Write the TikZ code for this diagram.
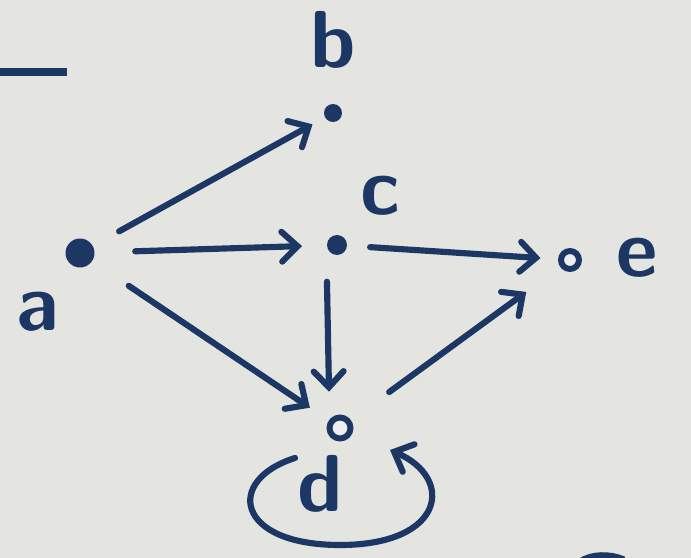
\documentclass[tikz,border=0pt]{standalone}
\usepackage{tikz}
\usetikzlibrary{arrows.meta}
\definecolor{inkblue}{RGB}{28,55,100}
\definecolor{paper}{RGB}{228,228,225}
\tikzset{
  vdot/.style={circle, fill=inkblue, inner sep=0pt},
  vring/.style={circle, draw=inkblue, line width=3.4pt, fill=paper!60!white, inner sep=0pt},
  vlabel/.style={text=inkblue, font=\fontsize{46}{46}\selectfont\sffamily\bfseries},
  arr/.style={-{Straight Barb[length=9pt, width=17pt, line cap=round]}, line width=3.5pt, inkblue, line cap=round},
}
\begin{document}
\begin{tikzpicture}[x=0.02cm, y=-0.02cm]
  \fill[paper] (0,0) rectangle (691,558);
  \useasboundingbox (0,0) rectangle (691,558);

  % vertices
  \node[vdot, minimum size=0.58cm] (a) at (80,253) {};
  \node[vdot, minimum size=0.36cm] (b) at (333,113) {};
  \node[vdot, minimum size=0.4cm] (c) at (337,245) {};
  \node[vring, minimum size=0.42cm] (d) at (340,428) {};
  \node[vring, minimum size=0.36cm] (e) at (570,260) {};

  % labels
  \node[vlabel] (la) at (38,312) {a};
  \node[vlabel] (lb) at (333,40) {b};
  \node[vlabel] (lc) at (380,196) {c};
  \node[vlabel] (ld) at (320,484) {d};
  \node[vlabel] (le) at (637,258) {e};

  % edges
  \draw[arr, shorten <=17pt, shorten >=8pt] (a) -- (b);
  \draw[arr, shorten <=23pt, shorten >=14pt] (a) -- (c);
  \draw[arr, shorten <=25pt, shorten >=13pt] (a) -- (d);
  \draw[arr, shorten <=13pt, shorten >=10pt] (c) -- (e);
  \draw[arr, shorten <=15pt, shorten >=13pt] ([xshift=-6pt]c.south) -- ([xshift=-6pt]d.north);
  \draw[arr, shorten <=27pt, shorten >=24pt] (d) -- (e);

  % self loop at d
  \coordinate (loopin) at (295,458);
  \coordinate (loopout) at (390,450);
  \draw[arr] (loopin) .. controls (225,480) and (235,545) .. (340,545)
    .. controls (445,545) and (455,478) .. (loopout);

  % margin marks
  \draw[inkblue, line width=4pt] (0,72) -- (67,72);
  \draw[inkblue, line width=4pt] (580,562) .. controls (592,554) and (610,554) .. (624,560);
\end{tikzpicture}
\end{document}
